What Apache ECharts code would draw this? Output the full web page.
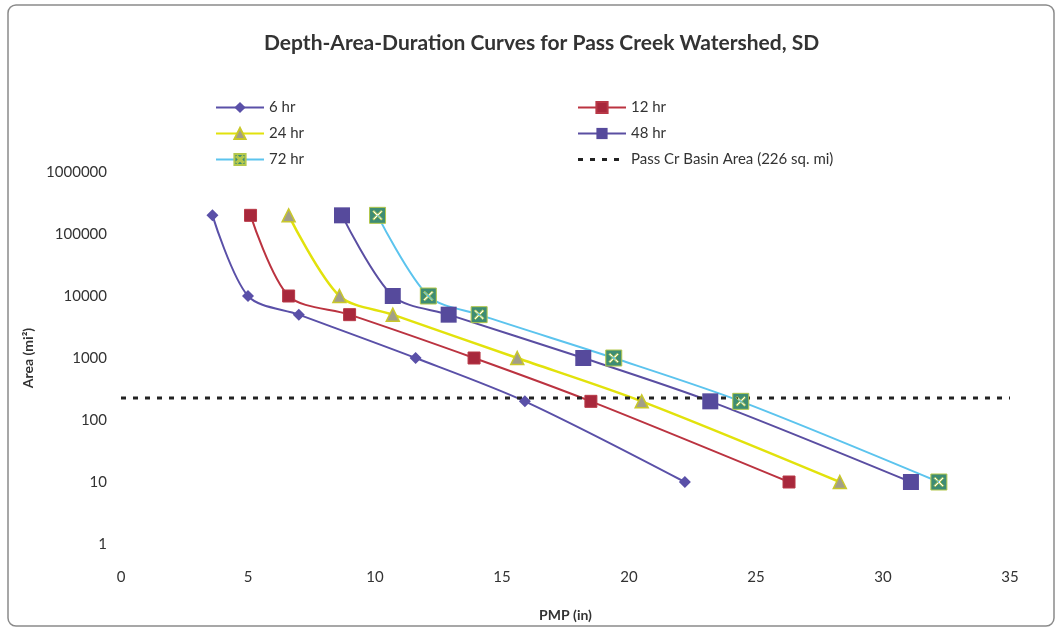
<!DOCTYPE html>
<html>
<head>
<meta charset="utf-8">
<script src="https://cdn.jsdelivr.net/npm/echarts@6/dist/echarts.min.js"></script>
<style>
  html, body { margin: 0; padding: 0; background: #fff; }
  #chart { width: 1060px; height: 630px; }
</style>
</head>
<body>
<div id="chart"></div>
<script>
// area (sq mi) for every point of each duration curve
var areas = [200000, 10000, 5000, 1000, 200, 10];
// PMP depth (in)
var pmp6 = [3.6, 5.0, 7.0, 11.6, 15.9, 22.2];
var pmp12 = [5.1, 6.6, 9.0, 13.9, 18.5, 26.3];
var pmp24 = [6.6, 8.6, 10.7, 15.6, 20.5, 28.3];
var pmp48 = [8.7, 10.7, 12.9, 18.2, 23.2, 31.1];
var pmp72 = [10.1, 12.1, 14.1, 19.4, 24.4, 32.2];
// basin area line
var basinX = [0, 35];
var basinArea = 226;

var names = ['6 hr', '12 hr', '24 hr', '48 hr', '72 hr', 'Pass Cr Basin Area (226 sq. mi)'];
var font = 'Lato, "Open Sans", sans-serif';

function pairs(xs) {
    return xs.map(function (x, i) { return [x, areas[i]]; });
}

// square with an X cut out (nonzero fill)
var boxX = 'path://M0,0 L20,0 L20,20 L0,20 Z M4,5.5 L8.5,10 L4,14.5 L5.5,16 L10,11.5 L14.5,16 L16,14.5 L11.5,10 L16,5.5 L14.5,4 L10,8.5 L5.5,4 Z';
// four short dashes for the basin legend entry (corner points keep the box size)
var dashIcon = 'path://M0,0 L0,0 Z M48,14 L48,14 Z M0,5.5 L5,5.5 L5,8.5 L0,8.5 Z M12,5.5 L17,5.5 L17,8.5 L12,8.5 Z M24,5.5 L29,5.5 L29,8.5 L24,8.5 Z M36,5.5 L41,5.5 L41,8.5 L36,8.5 Z';

var legendText = { fontFamily: font, fontSize: 15, color: '#333' };

var myChart = echarts.init(document.getElementById('chart'));

myChart.setOption({
    animation: false,
    title: {
        text: 'Depth-Area-Duration Curves for Pass Creek Watershed, SD',
        left: 259,
        top: 28,
        textStyle: { fontFamily: font, fontSize: 21, fontWeight: 'bold', color: '#333' }
    },
    graphic: [{
        type: 'rect',
        shape: { x: 8, y: 5, width: 1046, height: 621, r: 8 },
        style: { fill: 'none', stroke: '#8a8a8a', lineWidth: 1.5 },
        silent: true
    }],
    legend: [
        {
            data: [names[0], names[2], names[4]],
            orient: 'vertical',
            left: 210,
            top: 95,
            itemWidth: 48,
            itemHeight: 14,
            itemGap: 11,
            textStyle: legendText
        },
        {
            data: [names[1], names[3], { name: names[5], icon: dashIcon, itemStyle: { color: '#222' } }],
            orient: 'vertical',
            left: 572,
            top: 95,
            itemWidth: 48,
            itemHeight: 14,
            itemGap: 11,
            textStyle: legendText
        }
    ],
    grid: { left: 121, right: 50, top: 172, bottom: 86 },
    xAxis: {
        type: 'value',
        min: 0,
        max: 35,
        interval: 5,
        name: 'PMP (in)',
        nameLocation: 'middle',
        nameGap: 64,
        nameTextStyle: { fontFamily: font, fontSize: 14, fontWeight: 'bold', color: '#333' },
        axisLine: { show: false },
        axisTick: { show: false },
        splitLine: { show: false },
        axisLabel: { fontFamily: font, fontSize: 15, color: '#333', margin: 26 }
    },
    yAxis: {
        type: 'log',
        logBase: 10,
        min: 1,
        max: 1000000,
        name: 'Area (mi²)',
        nameLocation: 'middle',
        nameRotate: 90,
        nameGap: 84,
        nameTextStyle: { fontFamily: font, fontSize: 14, fontWeight: 'bold', color: '#333' },
        axisLine: { show: false },
        axisTick: { show: false },
        splitLine: { show: false },
        axisLabel: {
            fontFamily: font,
            fontSize: 15,
            color: '#333',
            margin: 14,
            padding: [12, 0, 0, 0],
            formatter: function (v) { return String(v); }
        }
    },
    series: [
        {
            name: names[0],
            type: 'line',
            smooth: 0.3,
            data: pairs(pmp6),
            symbol: 'diamond',
            symbolSize: 12,
            itemStyle: { color: '#5a50a8' },
            lineStyle: { color: '#5a50a8', width: 2 }
        },
        {
            name: names[1],
            type: 'line',
            smooth: 0.3,
            data: pairs(pmp12),
            symbol: 'rect',
            symbolSize: 12,
            itemStyle: { color: '#a8283c', borderColor: '#b83846', borderWidth: 1 },
            lineStyle: { color: '#bb3340', width: 2 }
        },
        {
            name: names[2],
            type: 'line',
            smooth: 0.3,
            data: pairs(pmp24),
            symbol: 'triangle',
            symbolSize: 13,
            itemStyle: { color: '#a29e88', borderColor: '#c9c82a', borderWidth: 1.5 },
            lineStyle: { color: '#e2e20c', width: 2.5 }
        },
        {
            name: names[3],
            type: 'line',
            smooth: 0.3,
            data: pairs(pmp48),
            symbol: 'rect',
            symbolSize: 16,
            itemStyle: { color: '#564a9c' },
            lineStyle: { color: '#5a4ea2', width: 2 }
        },
        {
            name: names[4],
            type: 'line',
            smooth: 0.3,
            data: pairs(pmp72),
            symbol: boxX,
            symbolSize: 16,
            itemStyle: { color: '#3e8c74', borderColor: '#b4c84c', borderWidth: 1 },
            lineStyle: { color: '#5cc4ee', width: 2 }
        },
        {
            name: names[5],
            type: 'line',
            data: basinX.map(function (x) { return [x, basinArea]; }),
            symbol: 'none',
            itemStyle: { color: '#222' },
            lineStyle: { color: '#222', width: 3, type: [5, 7] }
        }
    ]
});
</script>
</body>
</html>
